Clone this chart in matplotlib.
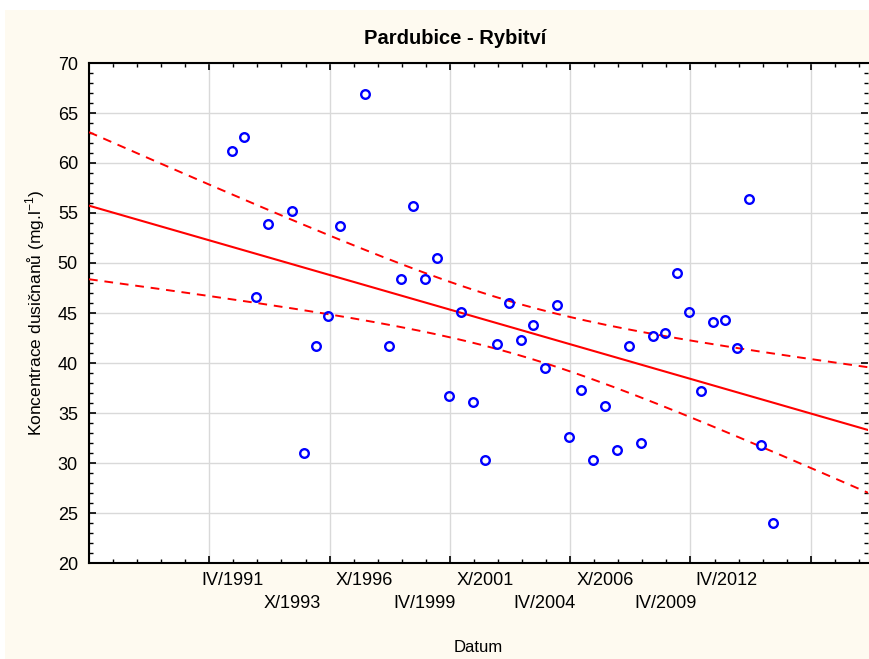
import numpy as np
import matplotlib
matplotlib.use('Agg')
import matplotlib.pyplot as plt
from matplotlib.ticker import MultipleLocator
from matplotlib.patches import Rectangle

plt.rcParams['font.family'] = ['Liberation Sans', 'DejaVu Sans']
plt.rcParams['mathtext.fontset'] = 'custom'
plt.rcParams['mathtext.rm'] = 'Liberation Sans'

# datum odberu (mesic rimsky / rok)
datum = ["IV/1991", "X/1991", "IV/1992", "X/1992", "X/1993", "IV/1994", "X/1994",
         "IV/1995", "X/1995", "X/1996", "X/1997", "IV/1998", "X/1998", "IV/1999",
         "X/1999", "IV/2000", "X/2000", "IV/2001", "X/2001", "IV/2002", "X/2002",
         "IV/2003", "X/2003", "IV/2004", "X/2004", "IV/2005", "X/2005", "IV/2006",
         "X/2006", "IV/2007", "X/2007", "IV/2008", "X/2008", "IV/2009", "X/2009",
         "IV/2010", "X/2010", "IV/2011", "X/2011", "IV/2012", "X/2012", "IV/2013",
         "X/2013"]
# koncentrace dusicnanu (mg/l)
konc = [61.2, 62.6, 46.6, 53.9, 55.2, 31.0, 41.7, 44.7, 53.7, 66.9,
        41.7, 48.4, 55.7, 48.4, 50.5, 36.7, 45.1, 36.1, 30.3, 41.9,
        46.0, 42.3, 43.8, 39.5, 45.8, 32.6, 37.3, 30.3, 35.7, 31.3,
        41.7, 32.0, 42.7, 43.0, 49.0, 45.1, 37.2, 44.1, 44.3, 41.5,
        56.4, 31.8, 24.0]

# popisky osy x
popisky = ["IV/1991", "X/1993", "X/1996", "IV/1999", "X/2001",
           "IV/2004", "X/2006", "IV/2009", "IV/2012"]
popisky_pos = [1991.29, 1993.79, 1996.79, 1999.29, 2001.79,
               2004.29, 2006.79, 2009.29, 2011.83]

mesice = {"IV": 4, "X": 10}


def na_rok(d):
    m, r = d.split("/")
    return int(r) + (mesice[m] - 0.5) / 12.0


x = np.array([na_rok(d) for d in datum])
y = np.array(konc)

# linearni regrese + 95% interval spolehlivosti
b1, b0 = np.polyfit(x, y, 1)
n = len(x)
res = y - (b0 + b1 * x)
s = np.sqrt(np.sum(res ** 2) / (n - 2))
sxx = np.sum((x - x.mean()) ** 2)
t = 2.0195  # t(0.975, 41)

x0, x1 = 1985.34, 2017.72
xx = np.linspace(x0, x1, 200)
yy = b0 + b1 * xx
se = s * np.sqrt(1.0 / n + (xx - x.mean()) ** 2 / sxx)

fig = plt.figure(figsize=(8.69, 6.59), dpi=100)
fig.patches.append(Rectangle((5 / 869, 0), 1, 1 - 10 / 659, transform=fig.transFigure,
                             facecolor='#fefaf0', edgecolor='none', zorder=-1))
ax = fig.add_axes([89 / 869, 96 / 659, 779 / 869, 500 / 659])
ax.set_facecolor('white')

ax.plot(xx, yy, color='red', lw=1.5, zorder=3)
ax.plot(xx, yy + t * se, color='red', lw=1.4, ls=(0, (4.5, 3.5)), zorder=3)
ax.plot(xx, yy - t * se, color='red', lw=1.4, ls=(0, (4.5, 3.5)), zorder=3)
ax.plot(x, y, 'o', ms=6.2, mfc='none', mec='blue', mew=1.7, zorder=4)

ax.set_xlim(x0, x1)
ax.set_ylim(20, 70)
ax.xaxis.set_major_locator(MultipleLocator(5, offset=x0 % 5))
ax.xaxis.set_minor_locator(MultipleLocator(1, offset=x0 % 1))
ax.yaxis.set_major_locator(MultipleLocator(5))
ax.yaxis.set_minor_locator(MultipleLocator(1))
ax.grid(True, which='major', color='#d9d9d9', lw=1)
ax.set_axisbelow(True)

ax.tick_params(which='both', direction='in', top=True, right=True, color='black')
ax.tick_params(which='major', length=5, width=1.2)
ax.tick_params(which='minor', length=3, width=1)
ax.tick_params(axis='y', labelsize=13, pad=8)
ax.set_xticklabels([])
for spine in ax.spines.values():
    spine.set_linewidth(1.5)
ax.spines['right'].set_visible(False)

# dvouradkove popisky osy x
for i, (p, lab) in enumerate(zip(popisky_pos, popisky)):
    yoff = -0.035 if i % 2 == 0 else -0.08
    ax.text(p, yoff, lab, transform=ax.get_xaxis_transform(),
            ha='center', va='center', fontsize=13)

fig.text(455 / 869, 1 - 38 / 659, 'Pardubice - Rybitví', fontsize=14.5,
         fontweight='bold', ha='center', va='center')
ax.set_xlabel('Datum', fontsize=12, labelpad=52)
ax.set_ylabel(r'Koncentrace dusičnanů (mg.l$^{-1}$)', fontsize=12.5, labelpad=8)

plt.savefig('out.png', dpi=100, facecolor='white')
